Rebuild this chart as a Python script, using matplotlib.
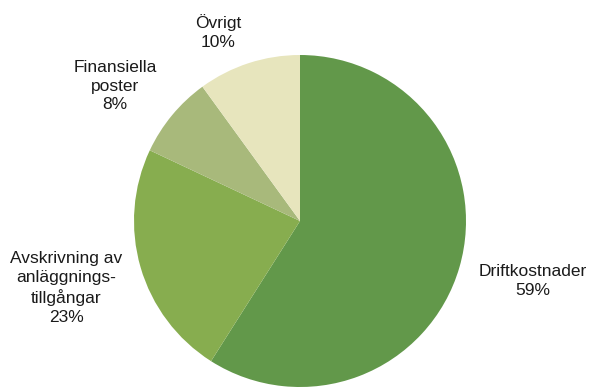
import matplotlib.pyplot as plt

# Cost breakdown (clockwise from 12 o'clock)
LABELS = ["Driftkostnader", "Avskrivning av\nanläggnings-\ntillgångar", "Finansiella\nposter", "Övrigt"]
SHARES = [59, 23, 8, 10]
COLORS = ["#62984a", "#87ad4f", "#a8b97b", "#e7e5bd"]

# label anchor points in pixel coordinates (y measured from bottom)
LABEL_POS = [(533, 106), (66, 99), (115, 301), (218, 355)]

plt.rcParams["font.family"] = ["Liberation Sans", "DejaVu Sans"]

fig = plt.figure(figsize=(5.89, 3.87), dpi=100)
ax = fig.add_axes([0, 0, 1, 1])

ax.pie(SHARES, colors=COLORS, startangle=90, counterclock=False,
       center=(300, 166), radius=166, frame=True,
       wedgeprops=dict(linewidth=0))

for label, share, (x, y) in zip(LABELS, SHARES, LABEL_POS):
    ax.text(x, y, f"{label}\n{share}%", ha="center", va="center",
            fontsize=12.5, color="#1a1a1a", linespacing=1.3)

ax.set_xlim(0, 589)
ax.set_ylim(0, 387)
ax.set_aspect("equal")
ax.axis("off")

fig.savefig("out.png", dpi=100)
